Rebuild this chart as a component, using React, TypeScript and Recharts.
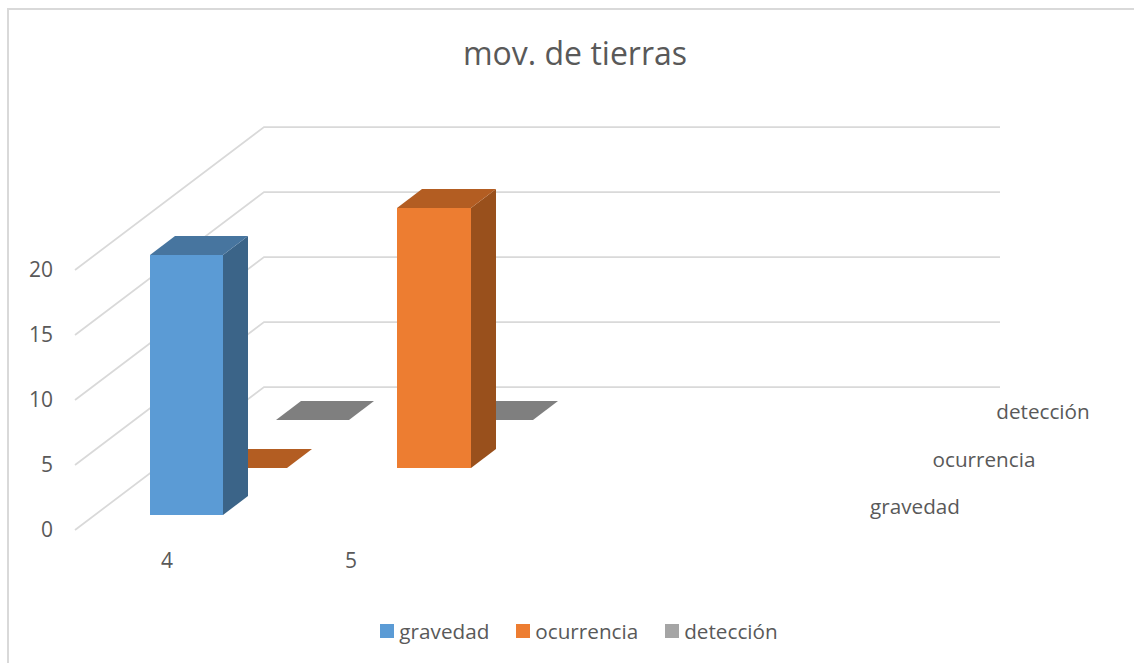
import React from "react";
import { BarChart, Bar, XAxis, YAxis, CartesianGrid, Legend } from "recharts";

const categories = ["4", "5", " ", "  "];
const gravedad = [20, null, null, null];
const ocurrencia = [0, 20, null, null];
const deteccion = [0, 0, null, null];
const valueTicks = [0, 5, 10, 15, 20];
const seriesNames = ["gravedad", "ocurrencia", "detección"];
const title = "mov. de tierras";

const rows = categories.map((name, i) => ({
  name,
  gravedad: gravedad[i],
  ocurrencia: ocurrencia[i],
  deteccion: deteccion[i],
}));

const FONT = "'Open Sans', sans-serif";
const TEXT = "#595959";
const WALL_DX = 189;
const WALL_DY = -143;
const CUBE_DX = 25;
const CUBE_DY = -19;

const palette = {
  gravedad: { front: "#5b9bd5", top: "#47759f", side: "#3b6488", key: "#5b9bd5" },
  ocurrencia: { front: "#ed7d31", top: "#b35d22", side: "#99501c", key: "#ed7d31" },
  deteccion: { front: "#a5a5a5", top: "#7f7f7f", side: "#6b6b6b", key: "#a5a5a5" },
};

const makeShape =
  (dataKey: "gravedad" | "ocurrencia" | "deteccion", dx: number, dy: number) =>
  (props: any) => {
    const { x, y, width, height, payload } = props;
    if (payload == null || payload[dataKey] == null) return null;
    const c = palette[dataKey];
    const l = Math.round(x + dx);
    const r = Math.round(x + dx + width);
    const t = Math.round(y + dy);
    const b = Math.round(y + dy + height);
    const pts = (a: number[][]) => a.map((p) => p.join(",")).join(" ");
    return (
      <g>
        {height > 0 && <rect x={l} y={t} width={r - l} height={b - t} fill={c.front} />}
        {height > 0 && (
          <polygon
            points={pts([[r, t], [r + CUBE_DX, t + CUBE_DY], [r + CUBE_DX, b + CUBE_DY], [r, b]])}
            fill={c.side}
          />
        )}
        <polygon
          points={pts([[l, t], [l + CUBE_DX, t + CUBE_DY], [r + CUBE_DX, t + CUBE_DY], [r, t]])}
          fill={c.top}
        />
      </g>
    );
  };

const wallLine = (props: any) => {
  const { x1, y1, x2, stroke, strokeWidth } = props;
  const bx = x1 + WALL_DX;
  const by = y1 + WALL_DY;
  return (
    <polyline
      key={`wall-${y1}`}
      points={`${x1},${y1} ${bx},${by} ${x2 + WALL_DX},${by}`}
      fill="none"
      stroke={stroke}
      strokeWidth={strokeWidth}
    />
  );
};

const legendColors = [palette.gravedad.key, palette.ocurrencia.key, palette.deteccion.key];

const LegendContent = () => (
  <div
    style={{
      display: "flex",
      justifyContent: "center",
      alignItems: "center",
      fontFamily: FONT,
      fontSize: 20.7,
      color: TEXT,
      lineHeight: "28px",
      gap: 27,
    }}
  >
    {seriesNames.map((n, i) => (
      <div key={n} style={{ display: "flex", alignItems: "center", gap: 5 }}>
        <span style={{ width: 14, height: 14, background: legendColors[i], display: "inline-block" }} />
        <span>{n}</span>
      </div>
    ))}
  </div>
);

export default function App() {
  return (
    <div style={{ position: "absolute", left: 0, top: 0, width: 1134, height: 663, overflow: "hidden", background: "#fff" }}>
      <div style={{ position: "absolute", left: 7, top: 8, right: 0, bottom: 0, borderLeft: "2px solid #d9d9d9", borderTop: "2px solid #d9d9d9" }} />
      <BarChart
        width={1134}
        height={663}
        data={rows}
        margin={{ left: 30, right: 323, top: 270, bottom: 75 }}
        barSize={73.5}
        barGap={-73.5}
        style={{ position: "absolute", left: 0, top: 0 }}
      >
        <text x={575} y={52} textAnchor="middle" dominantBaseline="central" fontFamily={FONT} fontSize={32} fill={TEXT}>
          {title}
        </text>
        <CartesianGrid vertical={false} horizontal={wallLine} stroke="#d9d9d9" strokeWidth={1.75} />
        <XAxis
          dataKey="name"
          height={30}
          axisLine={false}
          tickLine={false}
          tickMargin={17}
          tick={{ fontFamily: FONT, fontSize: 21, fill: TEXT }}
        />
        <YAxis
          width={45}
          domain={[0, 20]}
          ticks={valueTicks}
          axisLine={false}
          tickLine={false}
          tickMargin={16}
          tick={{ fontFamily: FONT, fontSize: 21, fill: TEXT }}
        />
        <Bar dataKey="deteccion" name="detección" isAnimationActive={false} fill={palette.deteccion.key} shape={makeShape("deteccion", 145.75, -110)} />
        <Bar dataKey="ocurrencia" name="ocurrencia" isAnimationActive={false} fill={palette.ocurrencia.key} shape={makeShape("ocurrencia", 83.25, -62.5)} />
        <Bar dataKey="gravedad" name="gravedad" isAnimationActive={false} fill={palette.gravedad.key} shape={makeShape("gravedad", 19.75, -15)} />
        <text x={915} y={506} textAnchor="middle" dominantBaseline="central" fontFamily={FONT} fontSize={20.7} fill={TEXT}>
          {seriesNames[0]}
        </text>
        <text x={984} y={459} textAnchor="middle" dominantBaseline="central" fontFamily={FONT} fontSize={20.7} fill={TEXT}>
          {seriesNames[1]}
        </text>
        <text x={1043} y={411} textAnchor="middle" dominantBaseline="central" fontFamily={FONT} fontSize={20.7} fill={TEXT}>
          {seriesNames[2]}
        </text>
        <Legend
          content={<LegendContent />}
          wrapperStyle={{ position: "absolute", left: 0, top: 617, width: 1158, height: 28 }}
        />
      </BarChart>
    </div>
  );
}
